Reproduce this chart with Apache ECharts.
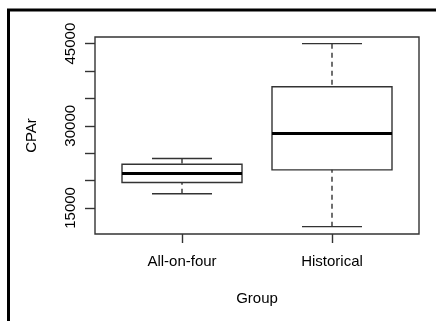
<!DOCTYPE html>
<html>
<head>
<meta charset="utf-8">
<script src="https://cdn.jsdelivr.net/npm/echarts@6/dist/echarts.min.js"></script>
<style>
  html, body { margin: 0; padding: 0; background: #fff; }
  #chart { width: 436px; height: 321px; }
</style>
</head>
<body>
<div id="chart"></div>
<script>
const categories = ['All-on-four', 'Historical'];
const whiskerLow = [17600, 11580];
const boxLow = [19630, 21950];
const medians = [21280, 28590];
const boxHigh = [22980, 37130];
const whiskerHigh = [24020, 45000];

const yTicks = [15000, 20000, 25000, 30000, 35000, 40000, 45000];
const yLabels = [15000, 30000, 45000];
const xPositions = [1, 2];

const font = "'Liberation Sans', Arial, Helvetica, sans-serif";
const lineColor = '#333';
const boxHalf = 0.4;
const capHalf = 0.2;

const chart = echarts.init(document.getElementById('chart'));

const boxData = categories.map((c, i) => [
  xPositions[i], whiskerLow[i], boxLow[i], medians[i], boxHigh[i], whiskerHigh[i]
]);

function renderBox(params, api) {
  const x = api.value(0);
  const lo = api.value(1), q1 = api.value(2), med = api.value(3), q3 = api.value(4), hi = api.value(5);
  const tl = api.coord([x - boxHalf, q3]);
  const br = api.coord([x + boxHalf, q1]);
  const mL = api.coord([x - boxHalf, med]);
  const mR = api.coord([x + boxHalf, med]);
  const top = api.coord([x, hi]);
  const bot = api.coord([x, lo]);
  const boxTop = api.coord([x, q3]);
  const boxBot = api.coord([x, q1]);
  const capL = api.coord([x - capHalf, hi])[0];
  const capR = api.coord([x + capHalf, hi])[0];
  const dash = { stroke: lineColor, lineWidth: 1.4, lineDash: [5, 4] };
  const solid = { stroke: lineColor, lineWidth: 1.4 };
  return {
    type: 'group',
    children: [
      { type: 'line', shape: { x1: top[0], y1: top[1], x2: boxTop[0], y2: boxTop[1] }, style: dash },
      { type: 'line', shape: { x1: bot[0], y1: bot[1], x2: boxBot[0], y2: boxBot[1] }, style: dash },
      { type: 'line', shape: { x1: capL, y1: top[1], x2: capR, y2: top[1] }, style: solid },
      { type: 'line', shape: { x1: capL, y1: bot[1], x2: capR, y2: bot[1] }, style: solid },
      { type: 'rect', shape: { x: tl[0], y: tl[1], width: br[0] - tl[0], height: br[1] - tl[1] },
        style: { fill: 'transparent', stroke: lineColor, lineWidth: 1.4 } },
      { type: 'line', shape: { x1: mL[0], y1: mL[1], x2: mR[0], y2: mR[1] },
        style: { stroke: '#000', lineWidth: 3 } }
    ]
  };
}

chart.setOption({
  animation: false,
  backgroundColor: '#fff',
  graphic: [{
    type: 'rect',
    shape: { x: 8.5, y: 10, width: 600, height: 500 },
    style: { fill: 'transparent', stroke: '#000', lineWidth: 3 },
    silent: true
  }],
  grid: {
    left: 95, top: 37, width: 324, height: 197,
    show: true, borderColor: lineColor, borderWidth: 1.4, backgroundColor: 'transparent'
  },
  xAxis: {
    type: 'value',
    min: 0.42,
    max: 2.58,
    name: 'Group',
    nameLocation: 'middle',
    nameGap: 57,
    nameTextStyle: { fontFamily: font, fontSize: 15, color: '#000' },
    axisLine: { show: false },
    splitLine: { show: false },
    axisTick: { show: true, customValues: xPositions, length: 9, lineStyle: { color: lineColor, width: 1.4 } },
    axisLabel: {
      customValues: xPositions,
      formatter: v => categories[Math.round(v) - 1],
      margin: 20,
      fontFamily: font, fontSize: 15, color: '#000'
    }
  },
  yAxis: {
    type: 'value',
    min: 10240,
    max: 46210,
    name: 'CPAr',
    nameLocation: 'middle',
    nameGap: 56,
    nameTextStyle: { fontFamily: font, fontSize: 15, color: '#000' },
    axisLine: { show: false },
    splitLine: { show: false },
    axisTick: { show: true, customValues: yTicks, length: 10, lineStyle: { color: lineColor, width: 1.4 } },
    axisLabel: {
      customValues: yLabels,
      formatter: v => String(v),
      rotate: 90,
      margin: 17,
      fontFamily: font, fontSize: 15, color: '#000'
    }
  },
  series: [{
    type: 'custom',
    renderItem: renderBox,
    encode: { x: 0, y: [1, 2, 3, 4, 5] },
    data: boxData
  }]
});
</script>
</body>
</html>
